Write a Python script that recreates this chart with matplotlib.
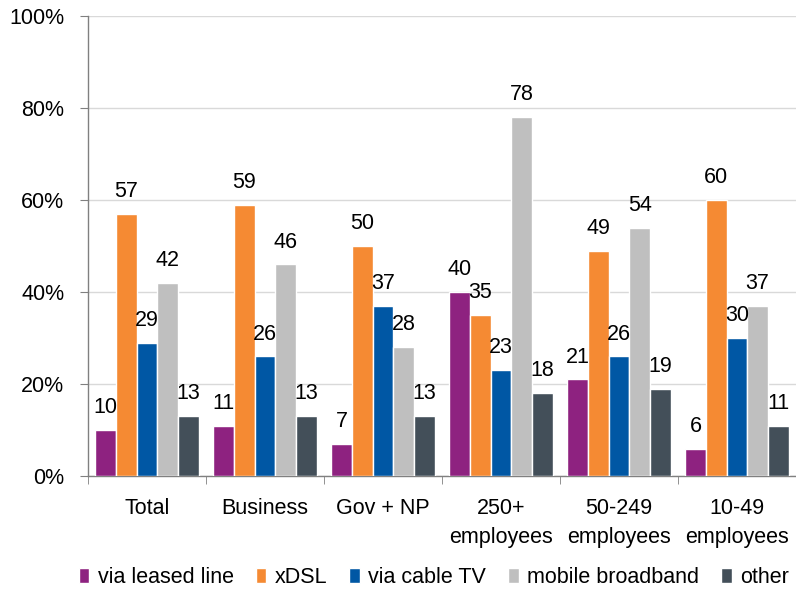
import matplotlib
matplotlib.use("Agg")
import matplotlib.pyplot as plt
import numpy as np
from matplotlib.ticker import FuncFormatter

plt.rcParams['font.family'] = ['Liberation Sans', 'DejaVu Sans']
FS = 15.5

categories = ["Total", "Business", "Gov + NP", "250+\nemployees", "50-249\nemployees", "10-49\nemployees"]
series_names = ["via leased line", "xDSL", "via cable TV", "mobile broadband", "other"]
leased = [10, 11, 7, 40, 21, 6]
xdsl = [57, 59, 50, 35, 49, 60]
cable = [29, 26, 37, 23, 26, 30]
mobile = [42, 46, 28, 78, 54, 37]
other = [13, 13, 13, 18, 19, 11]
colors = ["#8E2280", "#F58A33", "#0057A4", "#BFBFBF", "#434F59"]

values = [leased, xdsl, cable, mobile, other]

fig = plt.figure(figsize=(7.96, 5.90), dpi=100)
ax = fig.add_axes([0.1106, 0.193, 0.8894, 0.780])

x = np.arange(len(categories))
bw = 0.175
for i, (vals, c, name) in enumerate(zip(values, colors, series_names)):
    pos = x + (i - 2) * bw
    ax.bar(pos, vals, width=bw, color=c, edgecolor="white", linewidth=1.0, label=name, zorder=3)
    for p, v in zip(pos, vals):
        ax.annotate(str(v), (p, v), xytext=(0, 8.5), textcoords="offset points",
                    ha="center", va="bottom", fontsize=FS, zorder=4)

ax.set_xlim(-0.5, len(categories) - 0.5)
ax.set_ylim(0, 100)
ax.set_yticks(np.arange(0, 101, 20))
ax.yaxis.set_major_formatter(FuncFormatter(lambda v, p: f"{int(v)}%"))
ax.grid(axis="y", color="#D9D9D9", linewidth=1.0, zorder=0)
ax.set_axisbelow(True)

ax.set_xticks(x)
ax.set_xticklabels(categories, fontsize=FS, linespacing=1.45, va="top")
ax.tick_params(axis="x", length=0, pad=16)
ax.set_xticks(np.arange(-0.5, len(categories), 1.0), minor=True)
ax.tick_params(axis="x", which="minor", length=6, color="#808080")
ax.tick_params(axis="y", length=6, color="#808080", labelsize=FS, direction="out", pad=11)

for s in ["top", "right"]:
    ax.spines[s].set_visible(False)
for s in ["left", "bottom"]:
    ax.spines[s].set_color("#808080")
    ax.spines[s].set_linewidth(1.0)

leg = fig.legend(loc="lower center", bbox_to_anchor=(0.545, -0.03), ncol=5, frameon=False,
                 fontsize=FS, handlelength=0.5, handleheight=0.7, handletextpad=0.4,
                 columnspacing=1.0)

fig.savefig("out.png", dpi=100)
